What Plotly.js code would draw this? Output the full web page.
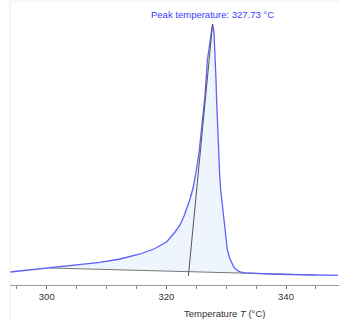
<!DOCTYPE html>
<html>
<head>
<meta charset="utf-8">
<script src="https://cdn.plot.ly/plotly-3.0.1.min.js"></script>
<style>html,body{margin:0;padding:0;background:#fff;}#chart{width:339px;height:322px;}</style>
</head>
<body>
<div id="chart"></div>
<script>
// DSC curve: temperature (°C) vs heat flow (arbitrary units)
const temperature = [293.86, 297.21, 300.55, 304.73, 308.91, 312.26, 315.60, 318.11, 320.07, 321.45, 322.29, 322.96, 323.46, 323.96, 324.46, 324.97, 325.47, 325.80, 326.19, 326.47, 326.86, 327.24, 327.49, 327.73, 327.96, 328.13, 328.30, 328.40, 328.53, 328.69, 328.91, 329.08, 329.25, 329.46, 329.80, 330.20, 330.57, 330.94, 331.32, 331.77, 332.32, 333.16, 334.50, 337.34, 340.69, 344.87, 348.71];
const heatFlow    = [1.30, 1.50, 1.70, 1.95, 2.27, 2.60, 3.10, 3.65, 4.33, 5.30, 6.00, 6.90, 7.70, 8.60, 9.70, 11.30, 13.30, 15.00, 17.00, 19.00, 22.50, 24.30, 25.50, 26.10, 25.30, 23.50, 20.50, 18.50, 16.50, 13.50, 11.00, 9.50, 8.50, 7.50, 5.50, 3.50, 2.70, 2.20, 1.75, 1.50, 1.32, 1.22, 1.17, 1.10, 1.05, 1.00, 0.97];
const baselineX = [300.55, 344.87];
const baselineY = [1.70, 1.00];
const tangentX = [323.68, 327.73];
const tangentY = [0.90, 26.10];
const peakTemperature = 327.73;
const xTickVals = [300, 320, 340];

// filled area between curve and baseline
const fillX = [], fillY = [];
for (let i = 0; i < temperature.length; i++) {
  if (temperature[i] >= baselineX[0] && temperature[i] <= baselineX[1]) {
    fillX.push(temperature[i]); fillY.push(heatFlow[i]);
  }
}
fillX.push(baselineX[1], baselineX[0]);
fillY.push(baselineY[1], baselineY[0]);

const traces = [
  {x: fillX, y: fillY, mode: 'lines', fill: 'toself', fillcolor: 'rgb(238,245,253)', line: {width: 0}, hoverinfo: 'skip'},
  {x: baselineX, y: baselineY, mode: 'lines', line: {color: '#777777', width: 1}},
  {x: temperature, y: heatFlow, mode: 'lines', line: {color: 'rgb(95,95,250)', width: 1.3}},
  {x: tangentX, y: tangentY, mode: 'lines', line: {color: '#555555', width: 1}}
];

const layout = {
  width: 339, height: 322,
  margin: {l: 10, r: 0, t: 1, b: 37},
  paper_bgcolor: '#ffffff', plot_bgcolor: '#ffffff',
  showlegend: false,
  font: {family: 'Liberation Sans, Arial, sans-serif', size: 9.5, color: '#333'},
  xaxis: {
    range: [293.86, 348.86], showgrid: false, zeroline: false,
    showline: true, linecolor: '#999999', linewidth: 1,
    tickmode: 'array', tickvals: xTickVals, ticktext: xTickVals.map(String),
    ticks: 'outside', ticklen: 3, tickcolor: '#666666',
    minor: {dtick: 5, tick0: 0, ticks: 'outside', ticklen: 3, tickcolor: '#888888'},
    tickfont: {size: 9.5, color: '#333'}
  },
  yaxis: {range: [0, 28.4], visible: false},
  shapes: [
    {type: 'line', xref: 'paper', yref: 'paper', x0: 0, x1: 1, y0: 1, y1: 1, line: {color: '#eeeeee', width: 1}},
    {type: 'line', xref: 'paper', yref: 'paper', x0: 0, x1: 0, y0: -0.13, y1: 1, line: {color: '#eeeeee', width: 1}}
  ],
  annotations: [
    {x: peakTemperature, y: 27.1, xref: 'x', yref: 'y', text: 'Peak temperature: ' + peakTemperature.toFixed(2) + ' °C', showarrow: false, yanchor: 'middle', font: {size: 9.5, color: '#3b3bff'}},
    {x: (224 - 10) / 329, y: -(313 - 285) / 284, xref: 'paper', yref: 'paper', xanchor: 'center', yanchor: 'middle', text: 'Temperature <i>T</i> (°C)', showarrow: false, font: {size: 9.5, color: '#333'}}
  ]
};

Plotly.newPlot('chart', traces, layout, {displayModeBar: false, staticPlot: true});
</script>
</body>
</html>
